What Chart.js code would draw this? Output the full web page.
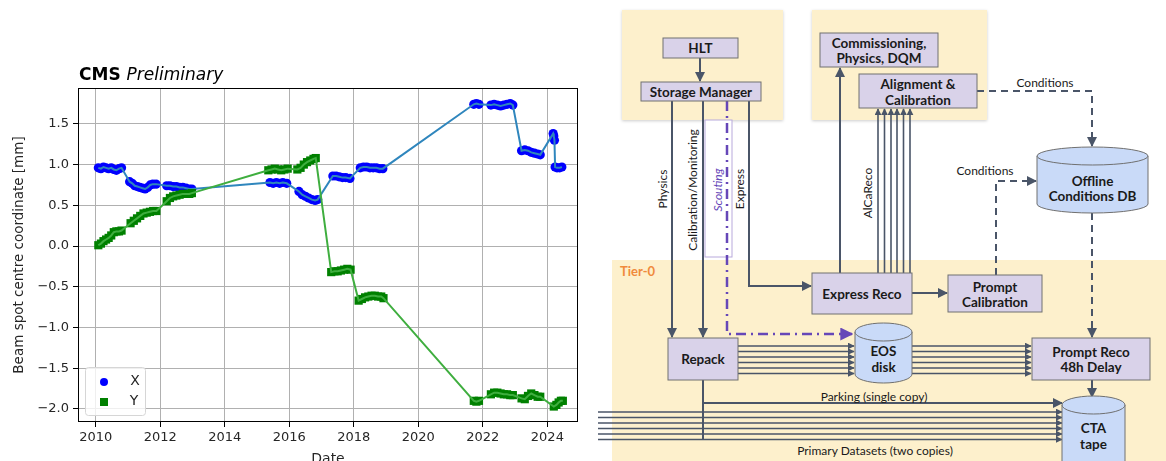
<!DOCTYPE html>
<html>
<head>
<meta charset="utf-8">
<script src="https://cdn.jsdelivr.net/npm/chart.js@4.4.1/dist/chart.umd.min.js"></script>
<style>
    html, body { margin: 0; padding: 0; width: 1166px; height: 461px; overflow: hidden; background: #fff; }
    #chartWrap { position: absolute; left: 0; top: 0; width: 595px; height: 475px; }
    #flow { position: absolute; left: 595px; top: 0; }
</style>
</head>
<body>
<div id="chartWrap"><canvas id="beamChart"></canvas></div>
<svg id="flow" width="571" height="461" viewBox="595 0 571 461"></svg>
<script>
        // Beam spot data (decimal years)
        const xDates = [
            2010.08, 2010.16, 2010.24, 2010.32, 2010.40, 2010.48, 2010.56, 2010.64, 2010.72, 2010.80,
            2011.05, 2011.13, 2011.21, 2011.29, 2011.37, 2011.45, 2011.53, 2011.61, 2011.69, 2011.77, 2011.87,
            2012.20, 2012.30, 2012.40, 2012.50, 2012.60, 2012.70, 2012.80, 2012.90, 2012.98,
            2015.40, 2015.50, 2015.60, 2015.70, 2015.80, 2015.92,
            2016.30, 2016.40, 2016.50, 2016.60, 2016.70, 2016.80, 2016.88,
            2017.35, 2017.45, 2017.55, 2017.65, 2017.75, 2017.88,
            2018.20, 2018.30, 2018.40, 2018.50, 2018.60, 2018.70, 2018.80, 2018.90,
            2021.72, 2021.80, 2021.88,
            2022.25, 2022.35, 2022.45, 2022.55, 2022.65, 2022.75, 2022.85, 2022.93,
            2023.20, 2023.30, 2023.40, 2023.50, 2023.60, 2023.70, 2023.78,
            2024.18, 2024.20, 2024.22, 2024.24, 2024.30, 2024.38, 2024.45
        ];
        const xValues = [
            0.96, 0.95, 0.97, 0.96, 0.95, 0.96, 0.94, 0.93, 0.95, 0.96,
            0.79, 0.77, 0.74, 0.73, 0.72, 0.71, 0.70, 0.72, 0.75, 0.76, 0.76,
            0.74, 0.74, 0.73, 0.73, 0.72, 0.72, 0.71, 0.70, 0.70,
            0.78, 0.77, 0.78, 0.77, 0.78, 0.77,
            0.67, 0.63, 0.61, 0.59, 0.57, 0.56, 0.57,
            0.86, 0.86, 0.85, 0.84, 0.84, 0.83,
            0.96, 0.97, 0.97, 0.96, 0.96, 0.96, 0.95, 0.95,
            1.74, 1.75, 1.74,
            1.73, 1.74, 1.73, 1.72, 1.73, 1.74, 1.75, 1.73,
            1.17, 1.18, 1.17, 1.15, 1.14, 1.13, 1.12,
            1.38, 1.35, 1.30, 0.97, 0.96, 0.96, 0.97
        ];
        const yDates = [
            2010.08, 2010.16, 2010.24, 2010.32, 2010.40, 2010.48, 2010.56, 2010.64, 2010.72, 2010.80,
            2011.08, 2011.18, 2011.28, 2011.38, 2011.48, 2011.58, 2011.68, 2011.78, 2011.88,
            2012.20, 2012.30, 2012.40, 2012.50, 2012.60, 2012.70, 2012.80, 2012.90, 2012.98,
            2015.35, 2015.45, 2015.55, 2015.65, 2015.75, 2015.85, 2015.95,
            2016.25, 2016.35, 2016.45, 2016.55, 2016.65, 2016.75, 2016.82,
            2017.30, 2017.40, 2017.50, 2017.60, 2017.70, 2017.80, 2017.90,
            2018.15, 2018.25, 2018.35, 2018.45, 2018.55, 2018.65, 2018.75, 2018.85, 2018.92,
            2021.72, 2021.80, 2021.88,
            2022.25, 2022.35, 2022.45, 2022.55, 2022.65, 2022.75, 2022.85, 2022.93,
            2023.20, 2023.30, 2023.40, 2023.50, 2023.60, 2023.70, 2023.78,
            2024.20, 2024.28, 2024.35, 2024.42, 2024.48
        ];
        const yValues = [
            0.01, 0.03, 0.06, 0.08, 0.10, 0.13, 0.17, 0.18, 0.18, 0.19,
            0.28, 0.31, 0.34, 0.37, 0.40, 0.41, 0.42, 0.43, 0.43,
            0.55, 0.59, 0.61, 0.62, 0.63, 0.64, 0.64, 0.64, 0.65,
            0.93, 0.94, 0.95, 0.94, 0.93, 0.94, 0.95,
            0.94, 0.96, 1.00, 1.03, 1.05, 1.07, 1.08,
            -0.32, -0.31, -0.31, -0.30, -0.29, -0.28, -0.29,
            -0.67, -0.65, -0.63, -0.62, -0.61, -0.61, -0.62, -0.62, -0.64,
            -1.90, -1.91, -1.90,
            -1.82, -1.80, -1.80, -1.81, -1.82, -1.82, -1.83, -1.83,
            -1.87, -1.88, -1.84, -1.81, -1.83, -1.85, -1.85,
            -1.97, -1.95, -1.92, -1.90, -1.90
        ];
        const xTickValues = [2010, 2012, 2014, 2016, 2018, 2020, 2022, 2024];
        const yTickValues = [-2.0, -1.5, -1.0, -0.5, 0.0, 0.5, 1.0, 1.5];
        const seriesNames = ['X', 'Y'];

        const FONT = 'DejaVu Sans';

        function toPoints(dates, values) {
            return dates.map((d, i) => ({ x: d, y: values[i] }));
        }

        // Frame, title and the in-plot legend (matplotlib look)
        const decorPlugin = {
            id: 'decor',
            afterDraw(chart) {
                const ctx = chart.ctx;
                const a = chart.chartArea;
                ctx.save();
                ctx.strokeStyle = '#000';
                ctx.lineWidth = 1;
                ctx.strokeRect(Math.round(a.left) + 0.5, Math.round(a.top) + 0.5,
                    Math.round(a.right - a.left) - 1, Math.round(a.bottom - a.top) - 1);

                // CMS Preliminary
                ctx.fillStyle = '#000';
                ctx.textBaseline = 'alphabetic';
                ctx.font = 'bold 17px ' + FONT;
                ctx.fillText('CMS', a.left + 1, 80);
                const w = ctx.measureText('CMS ').width;
                ctx.font = 'italic 17px ' + FONT;
                ctx.fillText('Preliminary', a.left + 1 + w, 80);

                // legend box
                const lx = 85, ly = 367, lw = 60, lh = 48;
                ctx.beginPath();
                ctx.roundRect(lx + 0.5, ly + 0.5, lw, lh, 3);
                ctx.fillStyle = 'rgba(255,255,255,0.8)';
                ctx.fill();
                ctx.strokeStyle = '#d6d6d6';
                ctx.stroke();

                ctx.fillStyle = '#0000ff';
                ctx.beginPath();
                ctx.arc(104, 382, 4, 0, Math.PI * 2);
                ctx.fill();
                ctx.fillStyle = '#008000';
                ctx.fillRect(100, 398, 8, 8);

                ctx.fillStyle = '#262626';
                ctx.font = '14px ' + FONT;
                ctx.textBaseline = 'middle';
                ctx.textAlign = 'center';
                ctx.fillText(seriesNames[0], 135, 381);
                ctx.fillText(seriesNames[1], 134, 401);
                ctx.restore();
            }
        };

        function initChart() {
            const xPts = toPoints(xDates, xValues);
            const yPts = toPoints(yDates, yValues);

            new Chart(document.getElementById('beamChart'), {
                type: 'scatter',
                data: {
                    datasets: [
                        { label: 'Y line', data: yPts, showLine: true, borderColor: '#3fae3f', borderWidth: 2,
                          pointRadius: 0, order: 0 },
                        { label: 'Y', data: yPts, showLine: false, pointStyle: 'rect', pointRadius: 5.8,
                          backgroundColor: '#008000', borderColor: '#008000', borderWidth: 0, order: 1 },
                        { label: 'X line', data: xPts, showLine: true, borderColor: '#2f86bd', borderWidth: 2,
                          pointRadius: 0, order: 2 },
                        { label: 'X', data: xPts, showLine: false, pointStyle: 'circle', pointRadius: 4.6,
                          backgroundColor: '#0000ff', borderColor: '#0000ff', borderWidth: 0, order: 3 }
                    ]
                },
                options: {
                    responsive: true,
                    maintainAspectRatio: false,
                    devicePixelRatio: 1,
                    animation: false,
                    layout: { padding: { top: 88, right: 17, left: 0, bottom: 0 } },
                    plugins: { legend: { display: false }, tooltip: { enabled: false } },
                    scales: {
                        x: {
                            type: 'linear',
                            min: 2009.45,
                            max: 2024.95,
                            afterBuildTicks: s => { s.ticks = xTickValues.map(v => ({ value: v })); },
                            afterFit: s => { s.height = 53; },
                            grid: { color: '#b0b0b0', tickColor: '#000', tickLength: 5 },
                            border: { display: false },
                            ticks: { color: '#262626', font: { family: FONT, size: 13 }, padding: 3,
                                     maxRotation: 0, callback: v => String(v) },
                            title: { display: true, text: 'Date', color: '#262626',
                                     font: { family: FONT, size: 14 }, padding: { top: 0, bottom: 7 } }
                        },
                        y: {
                            min: -2.16,
                            max: 1.94,
                            afterBuildTicks: s => { s.ticks = yTickValues.map(v => ({ value: v })); },
                            afterFit: s => { s.width = 78; },
                            grid: { color: '#b0b0b0', tickColor: '#000', tickLength: 5 },
                            border: { display: false },
                            ticks: { color: '#262626', font: { family: FONT, size: 13 }, padding: 4,
                                     callback: v => v.toFixed(1).replace('-', '\u2212') },
                            title: { display: true, text: 'Beam spot centre coordinate [mm]', color: '#262626',
                                     font: { family: FONT, size: 13.5 }, padding: { top: 11, bottom: 0 } }
                        }
                    }
                },
                plugins: [decorPlugin]
            });
        }

        // ---- Tier-0 data flow diagram (right half) ----
        const LINE = '#4a5568';
        const PURPLE = '#6647b8';
        let svg = '';

        function rect(x, y, w, h, fill, stroke, extra) {
            svg += `<rect x="${x}" y="${y}" width="${w}" height="${h}" fill="${fill}" stroke="${stroke}" ${extra || ''}/>`;
        }
        function text(x, y, str, opts) {
            opts = opts || {};
            const rot = opts.rotate ? `transform="rotate(-90 ${x} ${y})"` : '';
            svg += `<text x="${x}" y="${y}" ${rot} text-anchor="${opts.anchor || 'middle'}" dominant-baseline="central"
                font-family="Lato, 'Open Sans', sans-serif" font-size="${opts.size || 12}"
                font-weight="${opts.weight || 400}" font-style="${opts.style || 'normal'}"
                fill="${opts.color || '#1a1a1a'}">${str}</text>`;
        }
        function line(pts, opts) {
            opts = opts || {};
            const d = pts.map(p => p.join(',')).join(' ');
            svg += `<polyline points="${d}" fill="none" stroke="${opts.color || LINE}" stroke-width="${opts.width || 2}"
                ${opts.dash ? `stroke-dasharray="${opts.dash}"` : ''} ${opts.arrow ? `marker-end="url(#${opts.arrow})"` : ''}/>`;
        }
        function box(x, y, w, h, labels, ys) {
            rect(x, y, w, h, '#d9d2e9', '#707070', 'stroke-width="1"');
            labels.forEach((l, i) => text(x + w / 2, ys[i], l, { size: 13.5, weight: 700 }));
        }
        function cylinder(x, y, w, h, labels, ys) {
            const rx = w / 2, ry = 9, cx = x + rx;
            svg += `<path d="M${x},${y + ry} L${x},${y + h - ry} A${rx},${ry} 0 0 0 ${x + w},${y + h - ry} L${x + w},${y + ry} Z"
                fill="#c9daf8" stroke="#707070"/>`;
            svg += `<ellipse cx="${cx}" cy="${y + ry}" rx="${rx}" ry="${ry}" fill="#c9daf8" stroke="#707070"/>`;
            labels.forEach((l, i) => text(cx, ys[i], l, { size: 13.5, weight: 700 }));
        }

        function drawFlow() {
            svg += `<defs>
                <marker id="ah" viewBox="0 0 10 10" refX="9" refY="5" markerWidth="10" markerHeight="10" markerUnits="userSpaceOnUse" orient="auto">
                    <path d="M0,0 L10,5 L0,10 z" fill="${LINE}"/></marker>
                <marker id="ahs" viewBox="0 0 10 10" refX="9" refY="5" markerWidth="7" markerHeight="7" markerUnits="userSpaceOnUse" orient="auto">
                    <path d="M0,0 L10,5 L0,10 z" fill="${LINE}"/></marker>
                <marker id="ahp" viewBox="0 0 10 10" refX="9" refY="5" markerWidth="13" markerHeight="13" markerUnits="userSpaceOnUse" orient="auto">
                    <path d="M0,0 L10,5 L0,10 z" fill="${PURPLE}"/></marker>
                <filter id="shadow" x="-5%" y="-5%" width="110%" height="115%">
                    <feDropShadow dx="0" dy="1" stdDeviation="1.5" flood-opacity="0.2"/></filter>
            </defs>`;

            // panels
            rect(622, 10, 161, 110, '#fdf0cc', 'none', 'filter="url(#shadow)"');
            rect(812, 10, 175, 110, '#fdf0cc', 'none', 'filter="url(#shadow)"');
            rect(612, 260, 560, 220, '#fdf0cc', 'none');
            text(620, 271, 'Tier-0', { anchor: 'start', size: 13, weight: 700, color: '#f08a3c' });

            // scouting frame
            rect(705, 120, 27, 137, '#ffffff', '#b8a9dc', 'stroke-width="1"');

            // streams out of the Storage Manager
            line([[700, 58], [700, 81]], { arrow: 'ah' });
            line([[672, 101], [672, 337]], { arrow: 'ah' });
            line([[703, 101], [703, 337]], { arrow: 'ah' });
            line([[727, 101], [727, 334], [852, 334]], { color: PURPLE, width: 2.5, dash: '10 5 2 5', arrow: 'ahp' });
            line([[749, 101], [749, 286], [811, 286]], { arrow: 'ah' });

            // express reco outputs
            line([[840, 273], [840, 68]], { arrow: 'ah' });
            [878, 884.5, 891, 897, 903.5, 910].forEach(x => line([[x, 273], [x, 109]], { width: 1.6, arrow: 'ahs' }));
            line([[912, 293], [947, 293]], { arrow: 'ah' });

            // conditions
            line([[977, 91], [1092, 91], [1092, 146]], { dash: '7 5', arrow: 'ah' });
            line([[996, 275], [996, 181], [1036, 181]], { dash: '7 5', arrow: 'ah' });
            line([[1092, 213], [1092, 337]], { dash: '7 5', arrow: 'ah' });

            // repack -> EOS -> prompt reco
            [346, 351.5, 357, 362.5, 368, 373.5].forEach(y => {
                line([[738, y], [854, y]], { width: 1.6, arrow: 'ahs' });
                line([[912, y], [1031, y]], { width: 1.6, arrow: 'ahs' });
            });
            line([[1092, 380], [1092, 397]], { arrow: 'ah' });

            // to tape
            line([[703, 380], [703, 440]]);
            line([[703, 403], [1062, 403]], { arrow: 'ah' });
            [412, 417.5, 423, 428.5, 434, 439.5].forEach(y => line([[598, y], [1062, y]], { width: 1.6, arrow: 'ahs' }));

            // boxes
            box(663, 38, 75, 20, ['HLT'], [48]);
            box(641, 82, 120, 19, ['Storage Manager'], [92]);
            box(820, 33, 118, 34, ['Commissioning,', 'Physics, DQM'], [43, 58]);
            box(859, 74, 118, 34, ['Alignment &', 'Calibration'], [84, 100]);
            box(812, 273, 100, 41, ['Express Reco'], [294]);
            box(948, 275, 94, 37, ['Prompt', 'Calibration'], [287, 302]);
            box(668, 338, 70, 42, ['Repack'], [359]);
            box(1032, 338, 118, 42, ['Prompt Reco', '48h Delay'], [352, 367]);

            cylinder(1037, 147, 111, 66, ['Offline', 'Conditions DB'], [181, 196]);
            cylinder(855, 323, 57, 60, ['EOS', 'disk'], [351, 367]);
            cylinder(1062, 396, 63, 85, ['CTA', 'tape'], [428, 444]);

            // labels
            text(1045, 82, 'Conditions');
            text(985, 170, 'Conditions');
            text(662, 189, 'Physics', { rotate: true });
            text(692, 190, 'Calibration/Monitoring', { rotate: true });
            text(717, 190, 'Scouting', { rotate: true, style: 'italic', color: PURPLE });
            text(739, 189, 'Express', { rotate: true });
            text(867, 193, 'AlCaReco', { rotate: true });
            text(874, 396, 'Parking (single copy)');
            text(875, 450, 'Primary Datasets (two copies)');

            document.getElementById('flow').innerHTML = svg;
        }

        function init() {
            initChart();
            drawFlow();
        }

        document.addEventListener('DOMContentLoaded', init);
</script>
</body>
</html>
